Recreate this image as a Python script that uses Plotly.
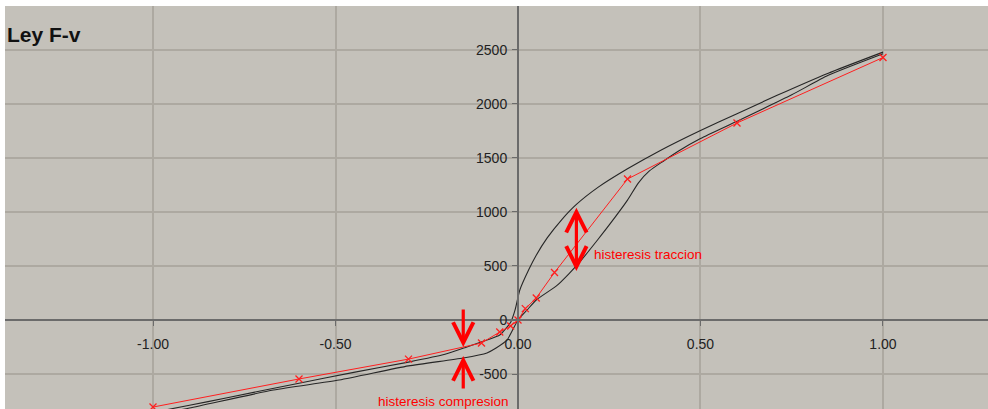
import plotly.graph_objects as go

# Force-displacement law (Ley F-v): hysteresis loop plus the mean law with markers
desp_carga = [-1.00, -0.90, -0.80, -0.60, -0.45, -0.30, -0.20, -0.14, -0.085, -0.05,
              -0.02, -0.008, 0.005, 0.03, 0.05, 0.08, 0.12, 0.16, 0.22, 0.30, 0.39,
              0.50, 0.60, 0.71, 0.85, 1.00]
fuerza_carga = [-855, -790, -722, -585, -485, -390, -318, -250, -185, -139,
                -20, 93, 278, 470, 600, 760, 930, 1070, 1230, 1400, 1570,
                1755, 1910, 2080, 2285, 2480]

desp_descarga = [1.00, 0.85, 0.75, 0.60, 0.50, 0.44, 0.40, 0.36, 0.33, 0.30, 0.25,
                 0.22, 0.17, 0.14, 0.107, 0.05, 0.025, 0.00, -0.03, -0.06, -0.085,
                 -0.15, -0.30, -0.49, -0.67, -0.90, -1.00]
fuerza_descarga = [2465, 2265, 2085, 1840, 1680, 1565, 1475, 1380, 1270, 1110, 880,
                   750, 540, 430, 320, 185, 93, 0, -185, -260, -305,
                   -352, -425, -556, -648, -815, -880]

desp_ley = [-1.00, -0.60, -0.30, -0.10, -0.05, -0.02, 0.00, 0.02, 0.05, 0.10, 0.30, 0.60, 1.00]
fuerza_ley = [-806, -546, -362, -213, -111, -55, 0, 105, 204, 440, 1305, 1824, 2430]

x_ticks = [-1.0, -0.5, 0.0, 0.5, 1.0]
x_tick_text = ["-1.00", "-0.50", "0.00", "0.50", "1.00"]
y_ticks = [-500, 0, 500, 1000, 1500, 2000, 2500]
y_tick_text = ["-500", "0", "500", "1000", "1500", "2000", "2500"]

# hysteresis markers: (x, y_from, y_to)
traccion = (0.16, 1040, 440)
compresion_sup = (-0.15, 111, -250)
compresion_inf = (-0.15, -648, -333)

x_range = [-1.4055, 1.2877]
y_range = [-824, 2907]

BG = "#c4c1ba"
GRID = "#ada9a1"
AXIS = "#6b6b6b"
RED = "#ff1f1f"
FONT = "Liberation Sans, Arial, sans-serif"

fig = go.Figure()
fig.add_trace(go.Scatter(x=desp_carga, y=fuerza_carga, mode="lines",
                         line=dict(color="#262626", width=1.1, shape="spline", smoothing=0.5),
                         showlegend=False, hoverinfo="skip"))
fig.add_trace(go.Scatter(x=desp_descarga, y=fuerza_descarga, mode="lines",
                         line=dict(color="#262626", width=1.1, shape="spline", smoothing=0.6),
                         showlegend=False, hoverinfo="skip"))
fig.add_trace(go.Scatter(x=desp_ley, y=fuerza_ley, mode="lines+markers",
                         line=dict(color=RED, width=1),
                         marker=dict(symbol="x-thin", size=7, line=dict(width=1.3, color=RED)),
                         showlegend=False, hoverinfo="skip"))

# arrows
fig.add_annotation(x=traccion[0], y=traccion[1], ax=traccion[0], ay=traccion[2],
                   xref="x", yref="y", axref="x", ayref="y", text="", showarrow=True,
                   arrowhead=5, startarrowhead=5, arrowside="end+start",
                   arrowwidth=3.2, arrowsize=1.25, startarrowsize=1.25, arrowcolor="#ff0000")
for xa, y0, y1 in (compresion_sup, compresion_inf):
    fig.add_annotation(x=xa, y=y1, ax=xa, ay=y0, xref="x", yref="y", axref="x", ayref="y",
                       text="", showarrow=True, arrowhead=5, arrowwidth=3.2, arrowsize=1.25,
                       arrowcolor="#ff0000")

fig.add_annotation(x=0.203, y=602, xref="x", yref="y", text="histeresis traccion",
                   showarrow=False, xanchor="left", yanchor="middle",
                   font=dict(family=FONT, size=13.5, color="#ff0000"))
fig.add_annotation(x=-0.204, y=-752, xref="x", yref="y", text="histeresis compresion",
                   showarrow=False, xanchor="center", yanchor="middle",
                   font=dict(family=FONT, size=13.5, color="#ff0000"))

x_pos = (0 - x_range[0]) / (x_range[1] - x_range[0])
y_pos = (0 - y_range[0]) / (y_range[1] - y_range[0])

fig.update_layout(
    width=988, height=409,
    margin=dict(l=5, r=0, t=6, b=0),
    paper_bgcolor="white", plot_bgcolor=BG,
    font=dict(family=FONT, size=14, color="#222222"),
    title=dict(text="<b>Ley F-v</b>", xref="container", yref="container",
               x=7 / 988, y=1 - 35 / 409, xanchor="left", yanchor="middle",
               font=dict(family=FONT, size=21, color="#111111")),
    xaxis=dict(range=x_range, anchor="free", position=y_pos,
               tickvals=x_ticks, ticktext=x_tick_text,
               showgrid=True, gridcolor=GRID, gridwidth=1.5, zeroline=False,
               showline=True, linecolor=AXIS, linewidth=2,
               ticks="outside", ticklen=5, tickcolor=AXIS, tickwidth=1,
               ticklabelstandoff=6),
    yaxis=dict(range=y_range, anchor="free", position=x_pos,
               tickvals=y_ticks, ticktext=y_tick_text,
               showgrid=True, gridcolor=GRID, gridwidth=1.5, zeroline=False,
               showline=True, linecolor=AXIS, linewidth=2,
               ticks="outside", ticklen=5, tickcolor=AXIS, tickwidth=1,
               ticklabelstandoff=2),
)

fig.write_html("out.html")
